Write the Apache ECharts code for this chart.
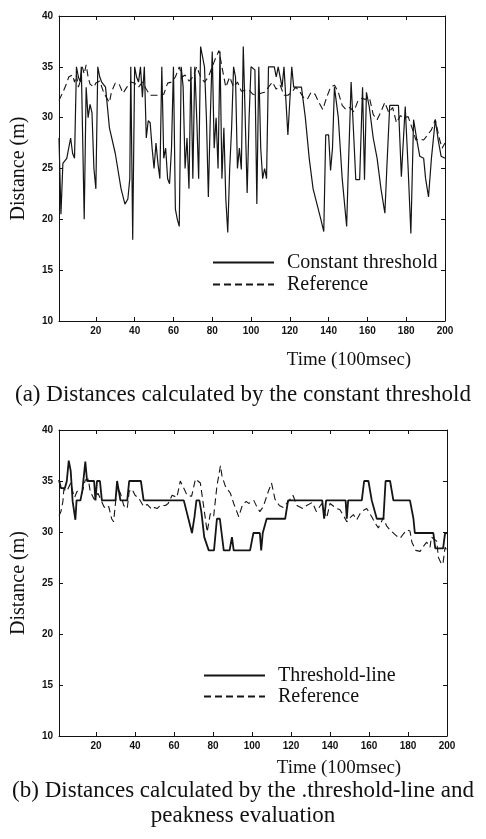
<!DOCTYPE html>
<html>
<head>
<meta charset="utf-8">
<script src="https://cdn.jsdelivr.net/npm/echarts@6/dist/echarts.min.js"></script>
<style>
  html, body { margin: 0; padding: 0; background: #fff; }
  #chart { width: 486px; height: 839px; }
</style>
</head>
<body>
<div id="chart"></div>
<script>
// ---- data ----
var xTicks = [20, 40, 60, 80, 100, 120, 140, 160, 180, 200];

// (a) constant threshold
var constT = [1,2,3,5,7,8,9,10,11,12,12.5,14,15,16,17,18,19,20,21,22,23,25,26,27,30,33,35,36.5,37.5,38,39,40,41,42,43,44,45,46,47,48,49,50,51,52,53,54,55,56,57,58,59,60,61,62,63,64,65,66,67,68,69,70,71,72,73,74,75,76,77,78,79,80,81,82,83,84,85,86,87,88,89,90,91,92,93,94,95,96,97,98,99,100,101,102,103,104,105,106,107,108,109,112,113,114,116,117,118,119,120,121,122,126,128,130,132,134,136,137.5,138.5,140,141,142,143,144,145,147,149.3,150,151.6,153,154,156,157.5,158.5,159.5,161,163,165,167,169,170,171.5,176,177.5,179.5,181,182.4,183.8,185.5,187,189,190,191.5,193,195,196.5,198,200];
var constD = [28,20.5,25.5,26,28,26.5,26,35,34,33.5,35,20,33,30,31.3,30.5,25,23,35,34,33.5,33,31,29,26.5,23,21.5,22,24,35,18,35,34,33.5,35,32,35,28,29.7,29.5,27,25,27.5,25.5,24,35,26,27,24,23.5,27,35,21,20,19.3,35,33,25,28,23,35,24,35,30,24,37,37,35,30,22.2,30,36.5,27,30,25,36.5,24,29,22,18.7,25,29,35,34,25,27,24.9,37,30,22.6,30,35,35,34.7,21.5,35,27,24,25,24,35,35,34,35,33,35,35,28.3,28.3,35,33,33,30,26,23,21.5,20,18.8,28.3,28.3,24.8,27,33,33,30,24,19.3,24,33.5,28,23.9,23.9,33,23.9,32.5,31,28,26,23,20.6,25,31.2,31.2,24.2,31.1,25,18.6,29.8,27.8,26.2,26,24,22.2,26,29.8,27.8,26.2,26];

// (a) reference
var refT = [1,3,5,6,8,9,10,11,12,13,14,15,16,17,18,19,20,22,24,26,27,28,30,32,34,36,38,40,42,44,46,48,52,55,57,59,61,63,64.5,66,68,70,72,74,76,78,80,82,83.5,85,87,89,91,93,95,97,99,101,103,105,107,109,111,113,115,117,119,121,123,125,127,129,131,133,135,137,139,141,143,145,147,149,151,153,155,157,159,161,163,165,167,169,171,173,175,177,179,181,183,185,187,189,191,193,195,197,198.5,200];
var refD = [31.7,32.5,33.4,34,34.2,33.5,34.2,33,33.6,35,34.3,35.2,34,33.3,33.4,33,33.4,33.6,32.5,31.8,31.5,32.5,33.4,33.3,32.4,33,33.5,33.4,33,33.5,32.8,32.2,32.2,32.3,33.4,33.5,34,35,34,34.2,33.6,34,35,34,33.5,34,35,36,36.6,35,33,34,33,33.5,32.6,32.7,32.7,32.3,32.2,32.4,32.5,33,33.5,32.8,33.2,32.2,32.2,32.5,33,32.6,32,31.8,32.5,32.3,31.5,30.8,32,33,33.2,32.5,31.2,30.8,31,30.6,31.6,31.9,31.8,32,30.3,29.8,30.6,31.5,30.5,31,29.5,30.2,30,30.1,29,27.8,27.9,27.8,28.3,28.8,29.8,28,27,27.5];

// (b) threshold-line
var lineT = [1,2,4,5,6,7,8,9.4,10,12,13,14.5,15.4,19,19.7,20.5,22,23,30,30.8,31.5,32.5,36,37,43,44.4,65,67.5,69.2,70.5,71.5,73,74,75.5,77.8,80.5,82,83.5,85.5,88.5,89.7,90.6,99,100.7,104,104.7,105.5,106.5,107.5,117,118.5,136,137,138,148,148.6,149.3,156.3,157.5,159.7,161.4,164,167.4,168.5,170.8,172.5,181,182.8,183.5,186,193,194,198,199,200];
var lineD = [35.1,34.3,34.3,35,37,36,33,31.2,33.1,33.1,34.1,36.9,35,35,33.1,35,35,33.1,33.1,35,35,33.1,33.1,35,35,33.1,33.1,31.2,29.9,31.5,33.1,33.1,32,29.5,28.2,28.2,31.3,31.3,28.2,28.2,29.5,28.2,28.2,29.9,29.9,28.2,29.9,29.9,31.3,31.3,33.1,33.1,31.3,33.1,33.1,31.3,33.1,33.1,35,35,33.1,31.3,31.3,35,35,33.1,33.1,31.3,29.9,29.9,29.9,28.4,28.4,29.9,29.9];

// (b) reference
var ref2T = [1,2,3,3.5,5,7,8,9,10.3,12.8,14.5,16,17,19,21,24,25,26.5,28,29,30.8,32.5,34.2,36,37,38.5,40,42,44.4,46.2,48.7,50,51.3,53,55.6,57,59,61.5,63.2,64.5,66.7,69,71,73.5,75.2,77,78.6,80.3,82,83.8,84.6,86.3,88.9,90.6,93.2,95,97,98.3,100.9,102.4,104,105.8,108.4,110,111.8,114,116,119.5,121,123,126,128,131,133,135.8,137,138.3,140,143.4,145,147,148.6,150.3,152,153.7,155.4,157,158.8,161.4,163,164.8,167.4,169,170.8,174.2,176,177.6,179.3,181,182,184,186.2,187.9,189.6,191.3,192,194.7,195.6,197.3,198,199,200];
var ref2D = [31.6,32,33,34.2,34,34.8,34,33.4,34,33.8,35.1,35.2,34,33.2,33.8,32.5,32.3,32.5,31.3,31,34.4,33.8,32.6,32.3,34,34.2,33.6,33.3,32.5,32.7,32.2,32.4,32.3,32.6,32.6,32.8,33.6,33.4,35,34.5,33.6,33.5,35.2,34.8,32.5,30,31.8,31.5,34.5,36.5,35.5,34.5,33.8,32.8,31.5,32.6,33,32.8,33.1,32.5,32,32.5,34,34.8,33.2,32.6,32.4,33.2,33.6,32.6,32.3,32.6,32.9,32,32.8,32,31.4,32.8,32.3,32.2,31.6,31,31.4,31.7,31.2,31.8,32.1,32.3,31.5,30.9,30.4,31.4,30.6,30.2,29.6,29.4,29.8,30.2,30.1,29,28.2,28.1,28.6,29,28.5,29.5,29.1,27.5,26.8,27,28.5,28.2];

function pairs(xs, ys) {
    return xs.map(function (x, i) { return [x, ys[i]]; });
}

;(function(window) {

    initChart();

    function xAxisFor(gridIndex, pos, showLabel) {
        return {
            type: 'value', gridIndex: gridIndex, position: pos,
            min: 1, max: 200,
            axisLine: { show: true, onZero: false, lineStyle: { color: '#111', width: 1 } },
            axisTick: { show: true, inside: true, length: 4, customValues: xTicks, lineStyle: { color: '#111' } },
            axisLabel: {
                show: showLabel, customValues: xTicks, margin: 5,
                fontFamily: 'Liberation Sans', fontWeight: 'bold', fontSize: 10, color: '#111'
            },
            splitLine: { show: false }
        };
    }

    function yAxisFor(gridIndex, pos, showLabel) {
        return {
            type: 'value', gridIndex: gridIndex, position: pos,
            min: 10, max: 40, interval: 5,
            axisLine: { show: true, onZero: false, lineStyle: { color: '#111', width: 1 } },
            axisTick: { show: true, inside: true, length: 4, lineStyle: { color: '#111' } },
            axisLabel: {
                show: showLabel, margin: 6,
                fontFamily: 'Liberation Sans', fontWeight: 'bold', fontSize: 10, color: '#111'
            },
            splitLine: { show: false },
            name: showLabel ? 'Distance (m)' : '',
            nameLocation: 'middle', nameGap: 30,
            nameTextStyle: { fontFamily: 'Liberation Serif', fontSize: 20, color: '#111' }
        };
    }

    function lineSeries(name, xi, yi, data, dashed, width) {
        return {
            type: 'line', name: name, xAxisIndex: xi, yAxisIndex: yi,
            data: data, symbol: 'none', showSymbol: false, animation: false,
            itemStyle: { color: '#151515' },
            lineStyle: { color: '#151515', width: width, type: dashed ? [7, 4] : 'solid' }
        };
    }

    function captionText(str, x, y, size) {
        return {
            type: 'text', x: x, y: y,
            style: {
                text: str, fill: '#111', align: 'center', verticalAlign: 'middle',
                font: size + 'px "Liberation Serif"'
            }
        };
    }

    function initChart() {
        var myChart = echarts.init(document.getElementById('chart'));

        var legendText = { fontFamily: 'Liberation Serif', fontSize: 20, color: '#111', lineHeight: 21, padding: [0, 0, 0, 8] };

        var options = {
            backgroundColor: '#fff',
            animation: false,
            grid: [
                { left: 59, right: 41, top: 16, height: 305 },
                { left: 59, right: 39, top: 430, height: 306 }
            ],
            xAxis: [
                xAxisFor(0, 'bottom', true), xAxisFor(0, 'top', false),
                xAxisFor(1, 'bottom', true), xAxisFor(1, 'top', false)
            ],
            yAxis: [
                yAxisFor(0, 'left', true), yAxisFor(0, 'right', false),
                yAxisFor(1, 'left', true), yAxisFor(1, 'right', false)
            ],
            legend: [
                {
                    data: ['Constant threshold', 'Reference'], orient: 'vertical',
                    left: 212, top: 252, padding: 0, itemWidth: 61, itemHeight: 8, itemGap: 1,
                    itemStyle: { opacity: 0 },
                    textStyle: legendText, selectedMode: false
                },
                {
                    data: ['Threshold-line', 'Reference'], orient: 'vertical',
                    left: 203, top: 665, padding: 0, itemWidth: 61, itemHeight: 8, itemGap: 0,
                    itemStyle: { opacity: 0 },
                    textStyle: legendText, selectedMode: false
                }
            ],
            series: [
                lineSeries('Constant threshold', 0, 0, pairs(constT, constD), false, 1.2),
                lineSeries('Reference', 0, 0, pairs(refT, refD), true, 1.1),
                lineSeries('Threshold-line', 2, 2, pairs(lineT, lineD), false, 1.8),
                lineSeries('Reference', 2, 2, pairs(ref2T, ref2D), true, 1.1)
            ],
            graphic: [
                captionText('Time (100msec)', 349, 360, 19),
                captionText('(a) Distances calculated by the constant threshold', 243, 395, 23),
                captionText('Time (100msec)', 339, 768, 19),
                captionText('(b) Distances calculated by the .threshold-line and', 243, 791, 23),
                captionText('peakness evaluation', 243, 816, 23)
            ]
        };

        myChart.setOption(options);
    }

}(window));
</script>
</body>
</html>
